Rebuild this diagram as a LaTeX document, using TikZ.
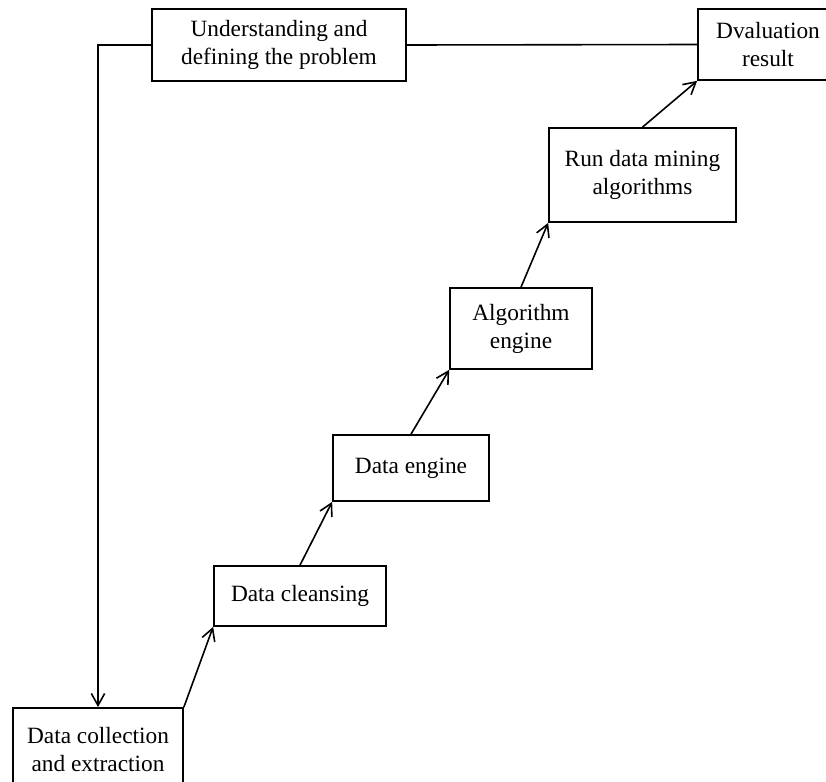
\documentclass[tikz,border=0pt]{standalone}
\usepackage{fontspec}
\setmainfont{Liberation Serif}
\usepackage{tikz}
\usetikzlibrary{positioning, calc, arrows.meta}

\tikzset{
  stage/.style={draw, line width=1.3pt, align=center, inner sep=0pt,
    font=\fontsize{17.5}{21}\selectfont},
  flow/.style={line width=1.2pt, -{Straight Barb[length=9pt,width=10pt,line width=1.2pt]}}
}

\begin{document}
\begin{tikzpicture}[x=0.75pt, y=-0.75pt]
      % 描画範囲
      \clip (0,0) rectangle (826,782);

      % ボックス
      \node[stage, minimum width=190.5pt, minimum height=54pt] (understand) at (279,45) {Understanding and\\defining the problem};
      \node[stage, minimum width=105pt, minimum height=53.25pt] (dval) at (768,44.5) {Dvaluation\\result};
      \node[stage, minimum width=140.25pt, minimum height=70.5pt] (run) at (642.5,175) {Run data mining\\algorithms};
      \node[stage, minimum width=106.5pt, minimum height=60.75pt] (algo) at (521,328.5) {Algorithm\\engine};
      \node[stage, minimum width=117pt, minimum height=49.5pt] (dengine) at (411,468) {Data engine};
      \node[stage, minimum width=129pt, minimum height=45pt] (cleanse) at (300,596) {Data cleansing};
      \node[stage, minimum width=127.5pt, minimum height=63pt] (collect) at (98,750) {Data collection\\and extraction};

      % 上の線
      \draw[line width=1.2pt] (understand.east) -- (dval.west);
      \draw[flow] (understand.west) -| (collect.north);

      % 階段状の矢印
      \draw[flow] (collect.north east) -- (cleanse.south west);
      \draw[flow] (cleanse.north) -- (dengine.south west);
      \draw[flow] (dengine.north) -- (algo.south west);
      \draw[flow] (algo.north) -- (run.south west);
      \draw[flow] (run.north) -- (dval.south west);
  \end{tikzpicture}
\end{document}
